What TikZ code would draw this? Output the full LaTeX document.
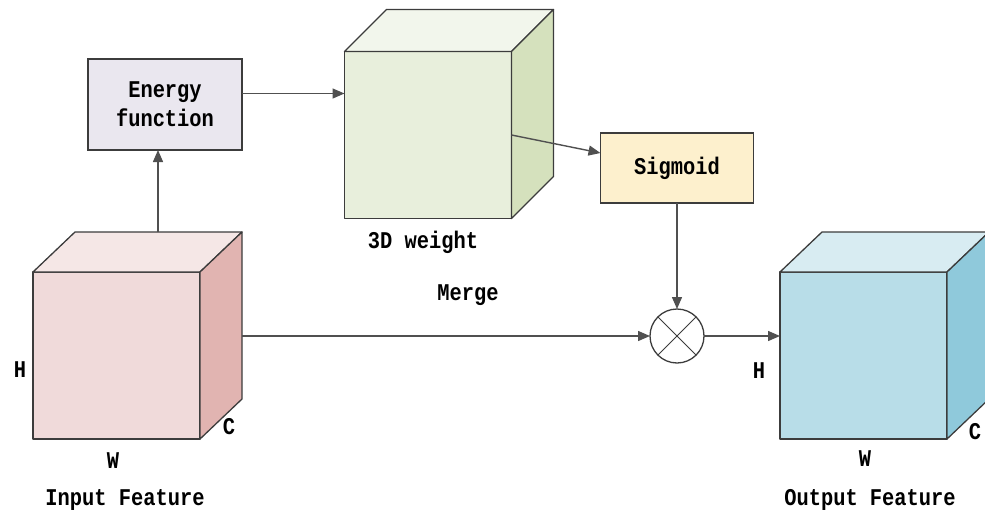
\documentclass[tikz,border=0pt]{standalone}
\usepackage{fontspec}
\setmonofont[FakeStretch=0.85]{Liberation Mono}
\usetikzlibrary{arrows.meta,calc}
\definecolor{infront}{HTML}{F0DADA}
\definecolor{intop}{HTML}{F5E7E6}
\definecolor{inright}{HTML}{E1B4B1}
\definecolor{wfront}{HTML}{E8EFDC}
\definecolor{wtop}{HTML}{F2F6EC}
\definecolor{wright}{HTML}{D5E1BD}
\definecolor{ofront}{HTML}{B8DDE8}
\definecolor{otop}{HTML}{D8ECF2}
\definecolor{oright}{HTML}{8FC9DB}
\definecolor{enfill}{HTML}{EAE7EF}
\definecolor{sigfill}{HTML}{FDF0CD}
\definecolor{edge}{HTML}{3C3C3C}
\begin{document}
\begin{tikzpicture}[x=1pt,y=-1pt,
  txt/.style={font=\fontsize{24}{28}\selectfont\ttfamily\bfseries, inner sep=0pt},
  face/.style={draw=edge, line width=1.3pt, line join=round},
  front/.style={face, rectangle, inner sep=0pt, outer sep=0pt, minimum width=167pt, minimum height=167pt},
  box/.style={draw=edge, line width=1.3pt, rectangle, inner sep=0pt, outer sep=0pt, align=center,
    font=\fontsize{24}{29}\selectfont\ttfamily\bfseries},
  arr/.style={draw=edge!90, line width=1.4pt, -{Triangle[length=12pt,width=10pt]}}]
\useasboundingbox (0,0) rectangle (985,514);
% ---------- input cube
\node[front, fill=infront] (inF) at (116.5,355.5) {};
\draw[face, fill=intop] (inF.north west) -- ++(42,-40) -- ++(167,0) -- (inF.north east) -- cycle;
\draw[face, fill=inright] (inF.north east) -- ++(42,-40) -- ++(0,167) -- (inF.south east) -- cycle;
\coordinate (inR) at ($(inF.north east)+(42,64)$);
\coordinate (inT) at (158,232);
\node[txt] (inH) at (20,370) {H};
\node[txt] (inC) at (229,427) {C};
\node[txt] (inW) at (113,461) {W};
\node[txt] (inLab) at (125,500) {Input Feature};
% ---------- 3D weight cube
\node[front, fill=wfront] (wF) at (428,135) {};
\draw[face, fill=wtop] (wF.north west) -- ++(42,-42) -- ++(167,0) -- (wF.north east) -- cycle;
\draw[face, fill=wright] (wF.north east) -- ++(42,-42) -- ++(0,167) -- (wF.south east) -- cycle;
\node[txt] (wLab) at (423,242) {3D weight};
% ---------- output cube
\node[front, fill=ofront] (oF) at (863.5,355.5) {};
\draw[face, fill=otop] (oF.north west) -- ++(42,-40) -- ++(167,0) -- (oF.north east) -- cycle;
\draw[face, fill=oright] (oF.north east) -- ++(42,-40) -- ++(0,167) -- (oF.south east) -- cycle;
\node[txt] (oH) at (759,371) {H};
\node[txt] (oC) at (975,432) {C};
\node[txt] (oW) at (865,459) {W};
\node[txt] (oLab) at (870,500) {Output Feature};
% ---------- boxes
\node[box, fill=enfill, minimum width=154pt, minimum height=91pt] (energy) at (165,104.5) {Energy\\function};
\node[box, fill=sigfill, minimum width=153pt, minimum height=70pt] (sig) at (677,168) {Sigmoid};
\node[draw=edge, line width=1.3pt, circle, fill=white, minimum size=54pt, inner sep=0pt, outer sep=0pt] (mul) at (677,336) {};
\draw[edge, line width=1pt] (mul.45) -- (mul.225) (mul.135) -- (mul.315);
\node[txt] (merge) at (468,295) {Merge};
% ---------- connectors
\draw[arr] (inT) -- (inT |- energy.south);
\coordinate (eo) at ([yshift=11pt]energy.east);
\draw[arr] (eo) -- (eo -| wF.west);
\draw[arr] (wF.east) -- ([yshift=15pt]sig.west);
\draw[arr] (sig.south) -- (mul.north);
\draw[arr] (inR) -- (mul.west);
\draw[arr] (mul.east) -- (mul.east -| oF.west);
\end{tikzpicture}
\end{document}
